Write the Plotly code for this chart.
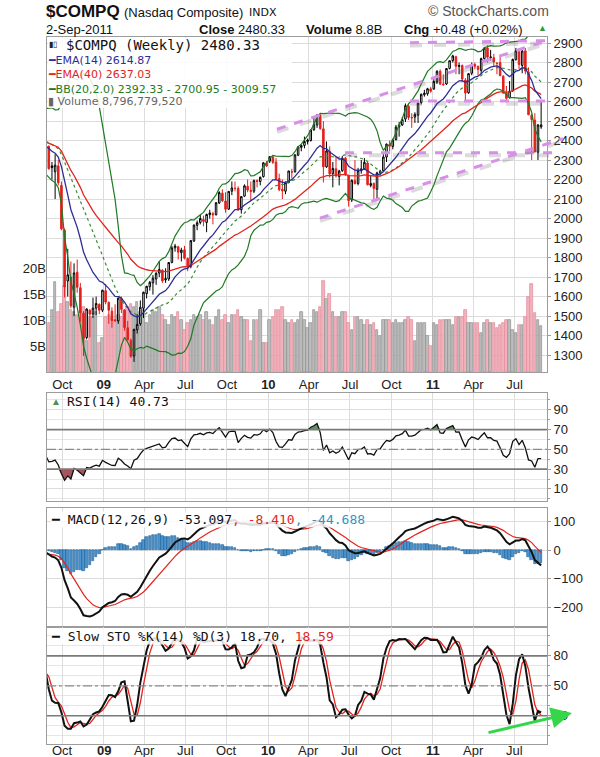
import numpy as np
import pandas as pd
import plotly.graph_objects as go

# ---------------- data ----------------
# warm-up weeks (Jan 2008 - Aug 22 2008), used only to seed indicators
warm_close = [2504.65, 2439.94, 2340.02, 2360.92, 2413.36, 2304.85, 2321.80, 2303.35, 2271.48, 2220.50,
              2212.49, 2258.11, 2261.18, 2370.98, 2290.24, 2402.97, 2422.93, 2476.75, 2445.52, 2528.85,
              2444.67, 2522.66, 2474.56, 2454.50, 2406.09, 2315.63, 2245.38, 2239.08, 2282.78, 2310.53,
              2310.96, 2414.10, 2452.52, 2414.71]
warm_high = [2661, 2540, 2475, 2390, 2430, 2420, 2370, 2350, 2360, 2300, 2290, 2280, 2340, 2380, 2380, 2410,
             2430, 2490, 2490, 2535, 2551, 2530, 2550, 2470, 2480, 2420, 2330, 2300, 2300, 2350, 2340, 2420,
             2470, 2450]
warm_low = [2502, 2390, 2331, 2202, 2300, 2290, 2290, 2260, 2270, 2205, 2170, 2155, 2250, 2270, 2285, 2270,
            2370, 2400, 2430, 2440, 2440, 2440, 2470, 2400, 2400, 2310, 2230, 2220, 2168, 2270, 2280, 2290,
            2400, 2380]

# displayed weeks: Aug 29 2008 ... Sep 2 2011
opens = [2420, 2370, 2270, 2240, 2270, 2170, 1940, 1680, 1700, 1545, 1725, 1645, 1515, 1390, 1530, 1510, 1540, 1560,
         1530, 1630, 1570, 1525, 1480, 1475, 1590, 1530, 1440, 1375, 1295, 1430, 1460, 1540, 1615, 1650, 1670, 1690,
         1720, 1735, 1685, 1690, 1775, 1850, 1855, 1825, 1840, 1795, 1755, 1885, 1965, 1980, 1995, 1980, 2020, 2025,
         2020, 2080, 2130, 2090, 2048, 2140, 2155, 2155, 2045, 2115, 2165, 2145, 2140, 2195, 2190, 2215,
         2285, 2295, 2315, 2290, 2205, 2150, 2140, 2185, 2240, 2240, 2325, 2365, 2375, 2395, 2400, 2455, 2480, 2530,
         2460, 2265, 2345, 2230, 2255, 2215, 2245, 2310, 2220, 2095, 2195, 2180, 2245, 2255, 2285, 2170, 2180, 2150,
         2235, 2245, 2315, 2380, 2370, 2405, 2470, 2480, 2510, 2575, 2515, 2520, 2530, 2595, 2635, 2640, 2665,
         2665, 2700, 2755, 2690, 2690, 2770, 2810, 2830, 2780, 2785, 2710, 2645, 2745, 2790, 2780, 2760, 2820, 2875,
         2825, 2825, 2795, 2800, 2730, 2645, 2620, 2655, 2815, 2855, 2785, 2860, 2750, 2530, 2505, 2340, 2470]
highs = [2440, 2375, 2290, 2330, 2300, 2190, 1950, 1845, 1780, 1770, 1790, 1670, 1525, 1540, 1535, 1595, 1600, 1565,
         1635, 1665, 1575, 1545, 1560, 1595, 1600, 1535, 1475, 1385, 1435, 1510, 1580, 1625, 1655, 1680, 1710, 1725,
         1780, 1740, 1745, 1775, 1860, 1870, 1860, 1850, 1860, 1800, 1890, 1970, 1990, 2020, 2015, 2025, 2045, 2035,
         2085, 2140, 2150, 2135, 2140, 2190, 2190, 2165, 2115, 2175, 2200, 2190, 2200, 2200, 2215, 2290,
         2295, 2320, 2326, 2310, 2230, 2200, 2190, 2245, 2255, 2330, 2370, 2380, 2420, 2410, 2455, 2520, 2535, 2535,
         2500, 2395, 2370, 2290, 2320, 2250, 2320, 2315, 2225, 2200, 2300, 2260, 2300, 2310, 2290, 2220, 2185, 2240,
         2250, 2330, 2385, 2400, 2410, 2480, 2495, 2520, 2590, 2590, 2540, 2545, 2595, 2640, 2660, 2670, 2675,
         2715, 2760, 2765, 2740, 2770, 2810, 2840, 2835, 2800, 2790, 2720, 2745, 2800, 2800, 2785, 2825, 2880, 2888,
         2865, 2845, 2800, 2835, 2735, 2680, 2705, 2820, 2875, 2860, 2870, 2875, 2775, 2535, 2540, 2485, 2600]
lows = [2360, 2250, 2200, 2100, 2170, 1940, 1595, 1600, 1540, 1500, 1620, 1470, 1295, 1380, 1390, 1490, 1505, 1510,
        1520, 1560, 1460, 1440, 1470, 1460, 1515, 1425, 1375, 1285, 1265, 1410, 1450, 1490, 1590, 1630, 1610, 1660,
        1700, 1670, 1670, 1680, 1770, 1830, 1790, 1780, 1790, 1730, 1745, 1880, 1940, 1970, 1960, 1930, 2000, 1970,
        2015, 2075, 2085, 2030, 2045, 2120, 2140, 2040, 2025, 2110, 2135, 2090, 2130, 2160, 2170, 2210,
        2265, 2285, 2280, 2200, 2140, 2100, 2125, 2180, 2205, 2235, 2320, 2345, 2360, 2380, 2395, 2450, 2465, 2455,
        2185, 2260, 2210, 2160, 2210, 2170, 2240, 2220, 2061, 2085, 2175, 2170, 2230, 2250, 2170, 2160, 2100, 2090,
        2220, 2240, 2290, 2345, 2355, 2400, 2420, 2475, 2495, 2505, 2465, 2490, 2490, 2585, 2625, 2630, 2645,
        2660, 2690, 2685, 2680, 2685, 2765, 2800, 2740, 2740, 2700, 2605, 2640, 2735, 2765, 2735, 2740, 2815, 2800,
        2810, 2780, 2740, 2730, 2640, 2605, 2615, 2650, 2810, 2765, 2745, 2740, 2530, 2300, 2340, 2300, 2460]
closes = [2367.52, 2255.88, 2261.27, 2273.90, 2183.34, 1947.39, 1649.51, 1711.29, 1552.03, 1720.95, 1647.40,
          1516.85, 1384.35, 1535.57, 1509.31, 1540.72, 1564.32, 1530.24,
          1632.21, 1571.59, 1529.33, 1477.29, 1476.42, 1591.71, 1534.36, 1441.23, 1377.84, 1293.85, 1431.50,
          1457.27, 1545.20, 1621.87, 1652.54, 1673.07, 1694.29, 1719.20, 1739.00, 1680.14, 1692.01, 1774.33,
          1849.42, 1858.80, 1827.47, 1838.22, 1796.52, 1756.03, 1886.61, 1965.96, 1978.50, 2000.25, 1985.52,
          2020.90, 2028.77, 2018.78, 2080.90, 2132.86, 2090.92, 2048.11, 2139.28, 2156.80, 2154.47, 2045.11,
          2112.44, 2167.88, 2146.04, 2138.44, 2194.35, 2190.31, 2211.69, 2285.69,
          2269.15, 2317.17, 2287.99, 2205.29, 2147.35, 2141.12, 2183.53, 2243.87, 2238.26, 2326.35, 2367.66,
          2374.41, 2395.13, 2402.58, 2454.05, 2481.26, 2530.15, 2461.19, 2265.64, 2346.85, 2229.04, 2257.04,
          2219.17, 2243.60, 2309.80, 2223.48, 2091.79, 2196.45, 2179.05, 2245.89, 2254.70, 2288.47, 2173.48,
          2179.76, 2153.63, 2233.75, 2242.48, 2315.61, 2381.22, 2370.75, 2401.91, 2468.77, 2479.39, 2507.41,
          2578.98, 2518.21, 2518.12, 2534.56, 2591.46, 2637.54, 2642.97, 2665.60, 2652.87,
          2703.17, 2755.30, 2689.54, 2686.89, 2769.30, 2809.44, 2833.95, 2781.05, 2784.67, 2715.61, 2643.67,
          2743.06, 2789.60, 2780.42, 2764.65, 2820.16, 2873.54, 2827.56, 2828.47, 2803.32, 2796.86, 2732.78,
          2643.73, 2616.48, 2652.89, 2816.03, 2859.81, 2789.80, 2858.83, 2756.38, 2532.41, 2507.98, 2341.84,
          2479.85, 2480.33]
volume_b = [8.5, 9.5, 11.9, 17.3, 11.5, 13.0, 16.5, 13.5, 12.0, 11.5, 11.0, 11.5, 12.5, 6.0, 10.5, 10.5, 11.5, 5.5,
            6.5, 10.5, 11.0, 10.5, 10.0, 11.0, 10.5, 12.0, 12.5, 13.0, 12.5, 13.5, 11.5, 12.0, 9.5, 11.0, 12.0, 11.5,
            12.5, 11.0, 10.0, 9.0, 11.0, 10.5, 11.5, 10.0, 8.0, 9.5, 10.0, 11.0, 10.5, 11.0, 10.0, 11.5, 10.0, 9.0,
            10.5, 12.0, 10.0, 11.0, 9.5, 11.0, 11.0, 12.0, 10.5, 10.0, 10.0, 6.0, 10.0, 10.0, 12.0, 5.5,
            5.5, 10.0, 10.5, 12.0, 12.0, 12.5, 10.0, 9.5, 10.0, 9.5, 10.0, 11.5, 10.0, 8.5, 9.5, 12.0, 11.5, 12.5,
            17.5, 14.0, 15.0, 11.5, 10.5, 10.5, 11.5, 11.5, 9.5, 8.0, 10.5, 10.5, 10.0, 9.0, 10.0, 9.0, 9.5, 8.0,
            7.0, 10.0, 10.0, 10.0, 9.5, 10.0, 9.5, 9.5, 10.0, 10.5, 10.0, 6.0, 9.5, 9.5, 9.5, 7.0, 5.0,
            9.5, 9.0, 10.0, 10.0, 10.0, 10.0, 9.0, 10.5, 10.5, 10.5, 12.0, 9.5, 9.5, 9.5, 9.5, 7.5, 9.5, 10.0,
            9.5, 9.5, 8.5, 9.0, 9.5, 10.0, 10.0, 8.0, 7.5, 9.0, 9.0, 10.5, 14.4, 17.0, 11.3, 10.0, 8.8]

tick_dates = ["2008-10-01", "2009-01-01", "2009-04-01", "2009-07-01", "2009-10-01", "2010-01-01",
              "2010-04-01", "2010-07-01", "2010-10-01", "2011-01-01", "2011-04-01", "2011-07-01"]
tick_text = ["Oct", "<b>09</b>", "Apr", "Jul", "Oct", "<b>10</b>", "Apr", "Jul", "Oct", "<b>11</b>", "Apr", "Jul"]
price_ticks = list(range(1300, 3000, 100))

# ---------------- indicators ----------------
nw = len(warm_close)
c_all = pd.Series(warm_close + closes, dtype=float)
h_all = pd.Series(warm_high + highs, dtype=float)
l_all = pd.Series(warm_low + lows, dtype=float)
week_end = pd.date_range(end="2011-09-02", periods=len(c_all), freq="W-FRI")
x_all = week_end - pd.Timedelta(days=4)

ema14 = c_all.ewm(span=14, adjust=False).mean()
ema40 = c_all.ewm(span=40, adjust=False).mean()
sma20 = c_all.rolling(20).mean()
sd20 = c_all.rolling(20).std(ddof=0)
bb_up = sma20 + 2 * sd20
bb_lo = sma20 - 2 * sd20
d = c_all.diff()
ag = d.clip(lower=0).ewm(alpha=1 / 14, adjust=False).mean()
al = (-d).clip(lower=0).ewm(alpha=1 / 14, adjust=False).mean()
rsi = 100 - 100 / (1 + ag / al)
macd = c_all.ewm(span=12, adjust=False).mean() - c_all.ewm(span=26, adjust=False).mean()
sig = macd.ewm(span=9, adjust=False).mean()
hist = macd - sig
hh = h_all.rolling(14).max()
ll = l_all.rolling(14).min()
fk = 100 * (c_all - ll) / (hh - ll)
sk = fk.rolling(3).mean()
sdk = sk.rolling(3).mean()

S = slice(nw, None)
x = x_all[S]
prev = c_all.shift(1)[S].values
C = np.array(closes); O = np.array(opens); H = np.array(highs); L = np.array(lows)
upw = C >= prev
vol = np.array(volume_b) * 1e9

def px2x(px):
    return (px - 47) / 500.0

def py2y(py):
    return (744 - py) / 707.0

fig = go.Figure()

# volume (base axis, left)
vcol = np.where(upw, "#bdbdbd", "#f4b3bc")
vedge = np.where(upw, "#8e8e8e", "#e0899a")
fig.add_bar(x=x, y=vol, marker=dict(color=vcol, line=dict(color=vedge, width=0.7)),
            width=5.6 * 86400000, xaxis="x", yaxis="y", hoverinfo="skip")

# BB, EMAs
fig.add_scatter(x=x, y=bb_up[S], mode="lines", line=dict(color="#1f7a22", width=1.2), xaxis="x", yaxis="y5")
fig.add_scatter(x=x, y=bb_lo[S], mode="lines", line=dict(color="#1f7a22", width=1.2), xaxis="x", yaxis="y5")
fig.add_scatter(x=x, y=sma20[S], mode="lines", line=dict(color="#3b8c3b", width=1.2, dash="dot"), xaxis="x", yaxis="y5")
fig.add_scatter(x=x, y=ema40[S], mode="lines", line=dict(color="#e3241d", width=1.3), xaxis="x", yaxis="y5")
fig.add_scatter(x=x, y=ema14[S], mode="lines", line=dict(color="#2d2d96", width=1.3), xaxis="x", yaxis="y5")

# candles: black if close >= previous close, red otherwise; hollow if close > open
for mask, col in ((upw, "#000000"), (~upw, "#e3211c")):
    fig.add_trace(go.Candlestick(
        x=x[mask], open=O[mask], high=H[mask], low=L[mask], close=C[mask],
        increasing=dict(line=dict(color=col, width=1), fillcolor="#ffffff"),
        decreasing=dict(line=dict(color=col, width=1), fillcolor=col),
        whiskerwidth=0, xaxis="x", yaxis="y5", hoverinfo="skip"))

# RSI
n = len(x)
fig.add_scatter(x=x, y=[30] * n, mode="lines", line=dict(width=0), xaxis="x2", yaxis="y2", hoverinfo="skip")
fig.add_scatter(x=x, y=np.minimum(rsi[S], 30), mode="lines", line=dict(width=0), fill="tonexty",
                fillcolor="#a4565f", xaxis="x2", yaxis="y2", hoverinfo="skip")
fig.add_scatter(x=x, y=[70] * n, mode="lines", line=dict(width=0), xaxis="x2", yaxis="y2", hoverinfo="skip")
fig.add_scatter(x=x, y=np.maximum(rsi[S], 70), mode="lines", line=dict(width=0), fill="tonexty",
                fillcolor="#5b9a5f", xaxis="x2", yaxis="y2", hoverinfo="skip")
fig.add_scatter(x=x, y=rsi[S], mode="lines", line=dict(color="#111111", width=1.3), xaxis="x2", yaxis="y2")

# MACD
fig.add_bar(x=x, y=hist[S], marker=dict(color="#4a94d0", line=dict(color="#1d5c92", width=0.6)),
            width=5.6 * 86400000, xaxis="x3", yaxis="y3", hoverinfo="skip")
fig.add_scatter(x=x, y=sig[S], mode="lines", line=dict(color="#e3241d", width=1.2), xaxis="x3", yaxis="y3")
fig.add_scatter(x=x, y=macd[S], mode="lines", line=dict(color="#111111", width=2), xaxis="x3", yaxis="y3")

# Slow stochastic
fig.add_scatter(x=x, y=sdk[S], mode="lines", line=dict(color="#e3241d", width=1.3), xaxis="x4", yaxis="y4")
fig.add_scatter(x=x, y=sk[S], mode="lines", line=dict(color="#111111", width=2), xaxis="x4", yaxis="y4")

# ---------------- layout ----------------
grid = "#dcdcdc"
border = "#9c9c9c"
tickfont = dict(family="Liberation Sans, Arial", size=13, color="#222222")
xr = ["2008-08-28", "2011-09-11"]
dom_main = [py2y(372), 1.0]
dom_rsi = [py2y(501), py2y(393)]
dom_macd = [py2y(627), py2y(508)]
dom_sto = [0.0, py2y(627)]

def xax(anchor, labels):
    return dict(domain=[0, 1], anchor=anchor, type="date", range=xr, tickvals=tick_dates, ticktext=tick_text,
                showticklabels=labels, showgrid=True, gridcolor=grid, gridwidth=1, showline=True, mirror=True,
                linecolor=border, linewidth=1, ticks="", tickfont=tickfont, zeroline=False, automargin=False,
                rangeslider=dict(visible=False))

def yax_right(dom, rng, tv, tt=None, minor=None):
    d = dict(domain=dom, range=rng, side="right", tickvals=tv, showgrid=True, gridcolor=grid, zeroline=False,
             showline=True, mirror=True, linecolor=border, ticks="outside", ticklen=3, tickcolor=border,
             tickfont=tickfont, automargin=False)
    if tt is not None:
        d["ticktext"] = tt
    if minor is not None:
        d["minor"] = minor
    return d

layout = dict(
    template="none",
    width=600, height=757, margin=dict(l=47, r=53, t=37, b=13, autoexpand=False),
    paper_bgcolor="white", plot_bgcolor="white", showlegend=False, bargap=0,
    xaxis=xax("y", True),
    xaxis2=dict(xax("y2", False), matches="x"),
    xaxis3=dict(xax("y3", False), matches="x"),
    xaxis4=dict(xax("y4", False), matches="x"),
    yaxis=dict(domain=dom_main, range=[0, 64.4e9], side="left", tickvals=[5e9, 10e9, 15e9, 20e9],
               ticktext=["5B", "10B", "15B", "20B"], showgrid=False, zeroline=False, showline=False,
               ticks="", tickfont=tickfont, automargin=False),
    yaxis5=dict(yax_right(dom_main, [1213, 2931], price_ticks), overlaying="y", anchor="x"),
    yaxis2=yax_right(dom_rsi, [-2.2, 107], [10, 30, 50, 70, 90],
                     minor=dict(dtick=10, tick0=0, showgrid=True, gridcolor="#e6e6e6", ticks="outside",
                                ticklen=2, tickcolor=border)),
    yaxis3=yax_right(dom_macd, [-270, 149], [-200, -100, 0, 100]),
    yaxis4=yax_right(dom_sto, [-8.4, 109], [20, 50, 80],
                     minor=dict(dtick=10, tick0=0, showgrid=True, gridcolor="#e6e6e6", ticks="outside",
                                ticklen=2, tickcolor=border)),
)
fig.update_layout(**layout)

shapes = []
# level lines in RSI / STO
for yref, lv, dash in (("y2", 70, "solid"), ("y2", 30, "solid"), ("y2", 50, "dashdot"),
                       ("y4", 80, "solid"), ("y4", 20, "solid"), ("y4", 50, "dashdot")):
    shapes.append(dict(type="line", xref="paper", x0=0, x1=1, yref=yref, y0=lv, y1=lv,
                       line=dict(color="#7a7a7a" if dash == "solid" else "#8a8a8a",
                                 width=1.6 if dash == "solid" else 1.2, dash=dash), layer="above"))
# legend background in main panel
shapes.append(dict(type="rect", xref="paper", yref="paper", x0=0.002, x1=px2x(292), y0=py2y(108), y1=0.999,
                   fillcolor="rgba(255,255,255,0.88)", line=dict(width=0), layer="above"))

# chartist trend lines (paper x, price y)
trend = [((410, 2902), (548, 2912)),
         ((277, 2458), (548, 2915)),
         ((410, 2603), (550, 2603)),
         ((345, 2338), (557, 2338)),
         ((320, 2002), (563, 2410))]
for (xa, ya), (xb, yb) in trend:
    shapes.append(dict(type="line", xref="paper", yref="y5", x0=px2x(xa), x1=px2x(xb), y0=ya - 14, y1=yb - 14,
                       line=dict(color="rgba(90,90,90,0.22)", width=4, dash="dash"), layer="above"))
    shapes.append(dict(type="line", xref="paper", yref="y5", x0=px2x(xa), x1=px2x(xb), y0=ya, y1=yb,
                       line=dict(color="#d98fe9", width=3, dash="dash"), layer="above"))
fig.update_layout(shapes=shapes)

ann = []

def text(px, py, t, size=12, color="#111111", family="Liberation Sans, Arial", bg=None):
    a = dict(xref="paper", yref="paper", x=px2x(px), y=py2y(py), text=t, showarrow=False, xanchor="left",
             yanchor="middle", font=dict(size=size, color=color, family=family), borderpad=0)
    if bg:
        a["bgcolor"] = bg
    ann.append(a)

# header
text(45, 11, "<b>$COMPQ</b>", 17)
text(123, 12, "(Nasdaq Composite)", 13)
text(248, 12, "INDX", 11, family="DejaVu Sans")
text(45, 29, "2-Sep-2011", 13)
text(198, 29, "<b>Close</b> 2480.33", 13)
text(305, 29, "<b>Volume</b> 8.8B", 13)
text(403, 29, "<b>Chg</b> +0.48 (+0.02%)", 13)
text(537, 28, "▲", 9, color="#2d9a3a")
text(427, 11, "© StockCharts.com", 14, color="#555555")

mono = "DejaVu Sans Mono, monospace"
sans = "DejaVu Sans, Verdana"
# main legend
text(48, 45, "▮▯", 8, color="#222222")
text(65, 45, "$COMPQ (Weekly) 2480.33", 14, family=mono)
text(47, 61, "━EMA(14) 2614.87", 11, color="#2d2d96", family=sans)
text(47, 75, "━EMA(40) 2637.03", 11, color="#e3241d", family=sans)
text(47, 89, "━BB(20,2.0) 2392.33 - 2700.95 - 3009.57", 11, color="#1f7a22", family=sans)
text(47, 102, "▮ Volume 8,796,779,520", 11, color="#666666", family=sans)
# RSI
text(50, 401, "▲", 10, color="#4d8f50")
text(66, 401, "RSI(14) 40.73", 13, family=mono, bg="rgba(255,255,255,0.85)")
# MACD
text(50, 519, "━ MACD(12,26,9) -53.097<span style='color:#e3241d'>, -8.410</span>"
              "<span style='color:#2f95c8'>, -44.688</span>", 13, family=mono, bg="rgba(255,255,255,0.85)")
# STO
text(50, 636, "━ Slow STO %K(14) %D(3) 18.70, <span style='color:#e3241d'>18.59</span>", 13, family=mono,
     bg="rgba(255,255,255,0.85)")

# bottom date labels (placed so they stay inside the page)
for tdv, ttx in zip(tick_dates, tick_text):
    ann.append(dict(xref="x4", yref="paper", x=tdv, y=py2y(750), text=ttx, showarrow=False, xanchor="center",
                    yanchor="middle", font=tickfont, borderpad=0))

# green arrow
ann.append(dict(xref="paper", yref="paper", x=px2x(572), y=py2y(713), ax=-85, ay=20, axref="pixel", ayref="pixel",
                showarrow=True, arrowhead=2, arrowsize=1.4, arrowwidth=3, arrowcolor="#35d64a", text=""))
fig.update_layout(annotations=ann)

fig.write_html("out.html")
